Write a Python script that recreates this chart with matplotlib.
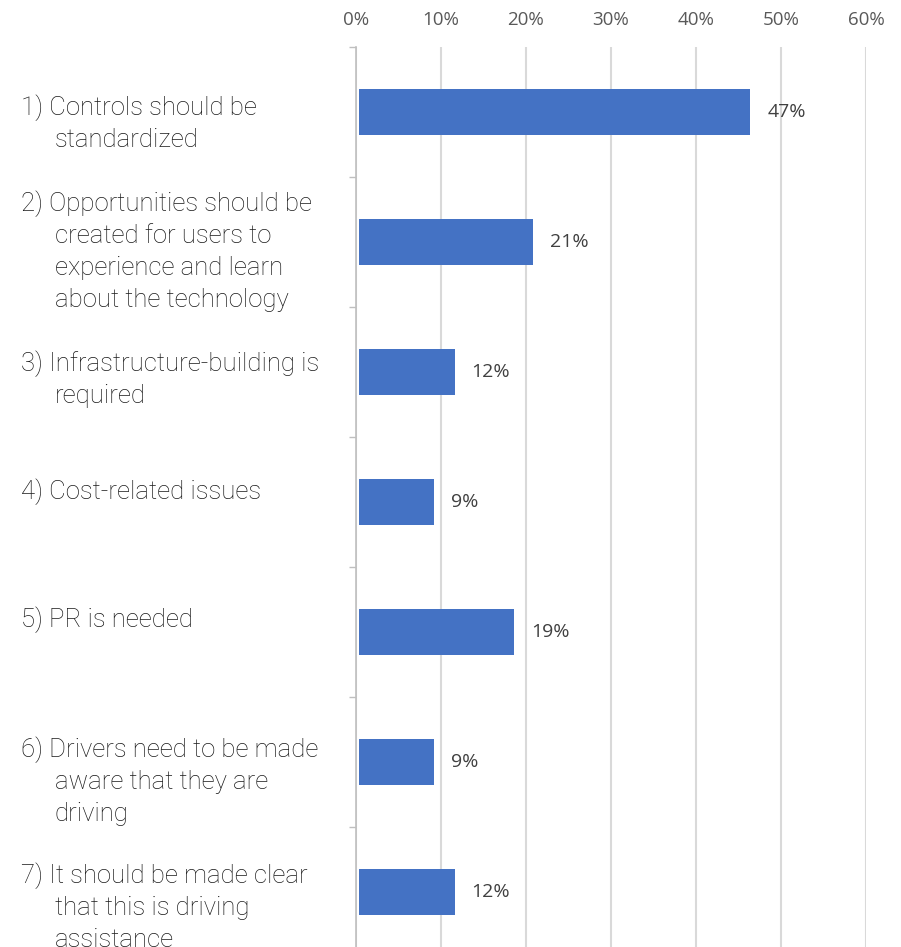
import matplotlib
matplotlib.use("Agg")
import matplotlib.pyplot as plt
from matplotlib.ticker import PercentFormatter
import numpy as np

# data
labels = [
    ["1) Controls should be", "standardized"],
    ["2) Opportunities should be", "created for users to", "experience and learn", "about the technology"],
    ["3) Infrastructure-building is", "required"],
    ["4) Cost-related issues"],
    ["5) PR is needed"],
    ["6) Drivers need to be made", "aware that they are", "driving"],
    ["7) It should be made clear", "that this is driving", "assistance"],
]
values = [46.0, 20.4, 11.2, 8.8, 18.2, 8.8, 11.2]
value_text = ["47%", "21%", "12%", "9%", "19%", "9%", "12%"]
# vertical offset (px) of first text line from the category centre
first_line = [-4, -38, -8, -10, -12, -12, -16]

W, H = 901, 947
fig = plt.figure(figsize=(W / 100, H / 100), dpi=100)
left, right, top, bottom = 356, 866, 47, 957
ax = fig.add_axes([left / W, 1 - bottom / H, (right - left) / W, (bottom - top) / H])

ypos = np.arange(len(values))
ax.barh(ypos, values, left=0.4, height=0.36, color="#4472C4", zorder=3)
ax.set_xlim(0, 60)
ax.set_ylim(len(values) - 0.5, -0.5)

ax.xaxis.tick_top()
ax.set_xticks(np.arange(0, 61, 10))
ax.xaxis.set_major_formatter(PercentFormatter(decimals=0))
ax.tick_params(axis="x", length=0, pad=13, labelsize=13.5, labelcolor="#595959")
for t in ax.get_xticklabels():
    t.set_family("Open Sans")
ax.grid(axis="x", color="#d9d9d9", linewidth=1.5, zorder=0)

ax.set_yticks([])
ax.set_yticks(np.arange(-0.5, len(values), 1), minor=True)
ax.tick_params(axis="y", which="minor", length=5, width=1, color="#bfbfbf", labelleft=False)
for s in ["top", "right", "bottom"]:
    ax.spines[s].set_visible(False)
ax.spines["left"].set_color("#bfbfbf")
ax.spines["left"].set_linewidth(1.2)

for i, (v, t) in enumerate(zip(values, value_text)):
    ax.annotate(t, xy=(v + 0.4, i), xytext=(17, 0), textcoords="offset pixels",
                va="center", ha="left", fontsize=14, color="#404040", family="Open Sans")

for i, lines in enumerate(labels):
    for j, line in enumerate(lines):
        x = 21 if j == 0 else 55
        ax.annotate(line, xy=(x, i), xycoords=("figure pixels", "data"),
                    xytext=(0, -(first_line[i] + 32 * j)), textcoords="offset pixels",
                    va="center", ha="left", fontsize=18.5, color="#1a1a1a",
                    family="Roboto", fontweight="light", annotation_clip=False)

fig.savefig("out.png", dpi=100)
